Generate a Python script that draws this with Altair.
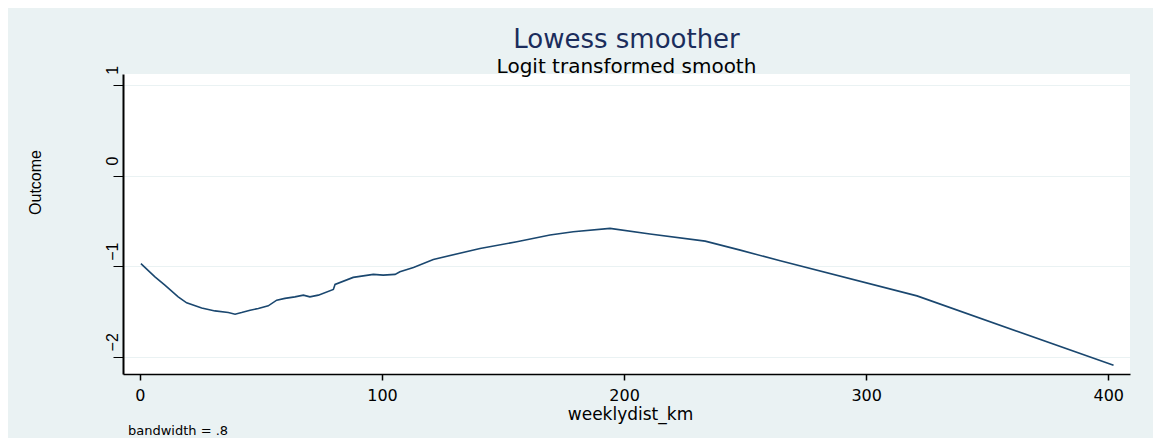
import altair as alt
import pandas as pd

weeklydist_km = [0.4, 6.2, 10.3, 15.8, 19.3, 25.5, 31.0, 36.5, 39.3, 42.0, 45.5, 48.9,
                 53.0, 56.5, 59.9, 64.0, 67.5, 70.2, 73.7, 79.9, 80.6, 88.1, 96.4, 100.5,
                 105.4, 107.4, 113.0, 121.2, 140.5, 155.7, 169.4, 179.0, 194.2, 210.7,
                 233.5, 248.0, 264.5, 321.0, 402.2]
outcome = [-0.972, -1.118, -1.210, -1.339, -1.405, -1.461, -1.494, -1.512, -1.530, -1.512,
           -1.486, -1.467, -1.438, -1.375, -1.356, -1.339, -1.320, -1.339, -1.320, -1.257,
           -1.202, -1.124, -1.091, -1.099, -1.091, -1.063, -1.014, -0.926, -0.805, -0.731,
           -0.657, -0.621, -0.583, -0.646, -0.724, -0.823, -0.941, -1.328, -2.094]
x_ticks = [0, 100, 200, 300, 400]
y_ticks = [1, 0, -1, -2]
note_text = ["bandwidth = .8"]

BG = "#EAF2F3"
df = pd.DataFrame({"weeklydist_km": weeklydist_km, "Outcome": outcome})

line = alt.Chart(df).mark_line(color="#1a476f", strokeWidth=1.6).encode(
    x=alt.X("weeklydist_km:Q",
            scale=alt.Scale(domain=[-7, 409], nice=False, zero=False),
            axis=alt.Axis(values=x_ticks, title="weeklydist_km", grid=False,
                          tickSize=6, tickColor="black", tickWidth=1.5,
                          domainColor="black", domainWidth=1.3,
                          labelFont="DejaVu Sans", labelFontSize=16, labelColor="black",
                          labelPadding=7,
                          titleFont="DejaVu Sans", titleFontSize=17, titleFontWeight="normal",
                          titleColor="black", titleX=507, titleY=40,
                          titleBaseline="middle", titleAlign="center")),
    y=alt.Y("Outcome:Q",
            scale=alt.Scale(domain=[-2.19, 1.12], nice=False, zero=False),
            axis=alt.Axis(values=y_ticks, title="Outcome", grid=True,
                          gridColor=BG, gridWidth=1.2,
                          tickSize=10, tickColor="black", tickWidth=1,
                          domainColor="black", domainWidth=2,
                          labelFont="Liberation Sans", labelFontSize=16, labelColor="black",
                          labelAngle=-90, labelAlign="center", labelBaseline="middle",
                          labelPadding=1, labelOffset=-15,
                          titleFont="Liberation Sans", titleFontSize=16, titleFontWeight="normal",
                          titleColor="black", titleAngle=-90, titleX=-88, titleY=108,
                          titleBaseline="middle", titleAlign="center")),
)

note = alt.Chart(pd.DataFrame({"t": note_text})).mark_text(
    align="left", baseline="middle", font="DejaVu Sans", fontSize=13, color="black"
).encode(x=alt.value(5), y=alt.value(357), text="t:N")

chart = alt.layer(line, note).properties(
    width=1007, height=300,
    padding={"left": 115, "top": 66, "right": 23, "bottom": 64},
    autosize=alt.AutoSizeParams(type="none"),
    background=BG,
    title=alt.TitleParams(text="Lowess smoother", subtitle="Logit transformed smooth",
                          anchor="middle", frame="group", font="DejaVu Sans", fontSize=26,
                          fontWeight="normal", color="#1b2d5c",
                          subtitleFont="DejaVu Sans", subtitleFontSize=20,
                          subtitleColor="black", subtitlePadding=4, offset=-12),
).configure_view(strokeWidth=0, fill="white")

chart.save("out.html", embed_options={"renderer": "svg", "actions": False})
